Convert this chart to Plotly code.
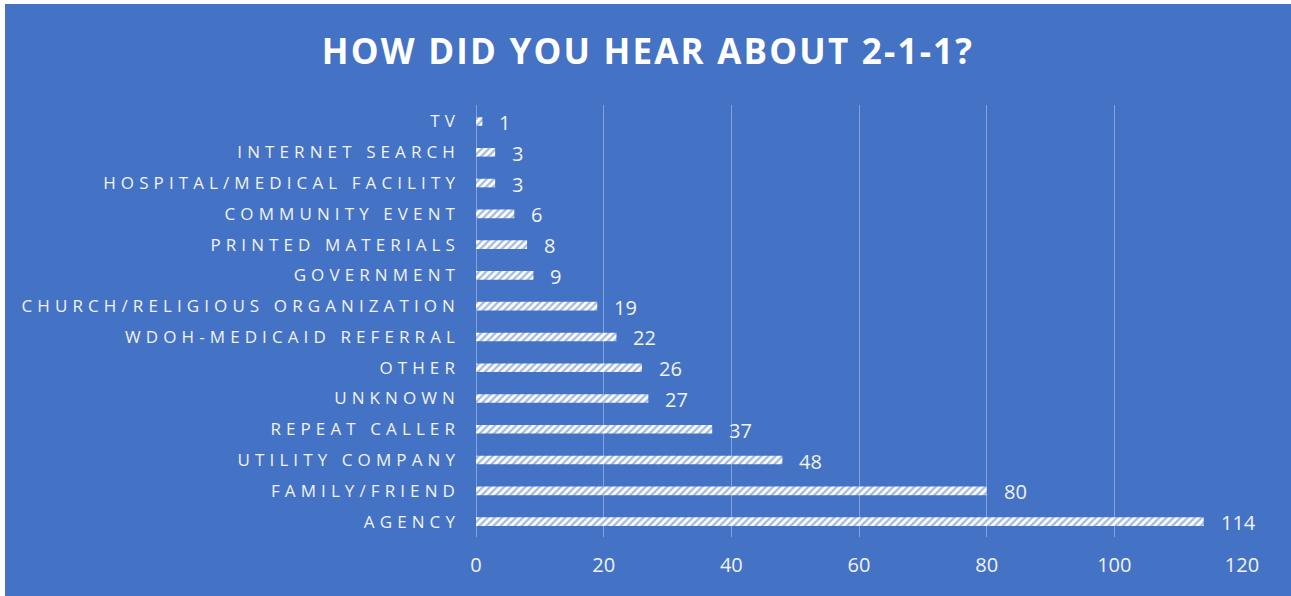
import plotly.graph_objects as go

# Survey responses: how callers heard about 2-1-1
sources = [
    "TV",
    "INTERNET SEARCH",
    "HOSPITAL/MEDICAL FACILITY",
    "COMMUNITY EVENT",
    "PRINTED MATERIALS",
    "GOVERNMENT",
    "CHURCH/RELIGIOUS ORGANIZATION",
    "WDOH-MEDICAID REFERRAL",
    "OTHER",
    "UNKNOWN",
    "REPEAT CALLER",
    "UTILITY COMPANY",
    "FAMILY/FRIEND",
    "AGENCY",
]
counts = [1, 3, 3, 6, 8, 9, 19, 22, 26, 27, 37, 48, 80, 114]
x_ticks = [0, 20, 40, 60, 80, 100, 120]

BLUE = "#4472C4"
TEXT = "#F2F2F2"
FONT = "Open Sans"

fig = go.Figure(
    go.Bar(
        x=counts,
        y=sources,
        orientation="h",
        marker=dict(
            color="white",
            line=dict(width=0),
            pattern=dict(shape="/", fgcolor=BLUE, size=5, solidity=0.45),
        ),
        hoverinfo="skip",
    )
)

# value labels just right of each bar
for name, val in zip(sources, counts):
    fig.add_annotation(
        x=val, y=name, text=str(val), showarrow=False,
        xanchor="left", xshift=15, yshift=-1,
        font=dict(family=FONT, size=20, color=TEXT),
    )

fig.update_layout(
    width=1286,
    height=592,
    paper_bgcolor=BLUE,
    plot_bgcolor=BLUE,
    margin=dict(l=471, r=49, t=101, b=59),
    bargap=0.72,
    showlegend=False,
    title=dict(
        text="<b>HOW DID YOU HEAR ABOUT 2-1-1?</b>",
        x=0.5, xanchor="center", y=0.92, yanchor="middle",
        font=dict(family=FONT, size=35, color="white"),
    ),
    xaxis=dict(
        range=[0, 120],
        tickvals=x_ticks,
        showgrid=True,
        gridcolor="rgba(255,255,255,0.35)",
        gridwidth=1,
        zeroline=True,
        zerolinecolor="rgba(255,255,255,0.35)",
        zerolinewidth=1,
        showline=False,
        ticks="",
        ticklabelstandoff=14,
        tickfont=dict(family=FONT, size=20, color=TEXT),
    ),
    yaxis=dict(
        categoryorder="array",
        categoryarray=sources,
        autorange="reversed",
        showgrid=False,
        ticks="",
        ticklabelstandoff=15,
        tickfont=dict(family=FONT, size=17, color=TEXT),
    ),
)

post = """
var gd = document.getElementById('{plot_id}');
document.body.style.margin = '0';
document.body.style.background = 'white';
gd.style.position = 'absolute';
gd.style.left = '5px';
gd.style.top = '4px';
gd.querySelectorAll('.ytick text').forEach(function(t){ t.style.letterSpacing = '5.1px'; });
gd.querySelectorAll('.gtitle').forEach(function(t){ t.style.letterSpacing = '2.2px'; });
"""

fig.write_html("out.html", post_script=post)
